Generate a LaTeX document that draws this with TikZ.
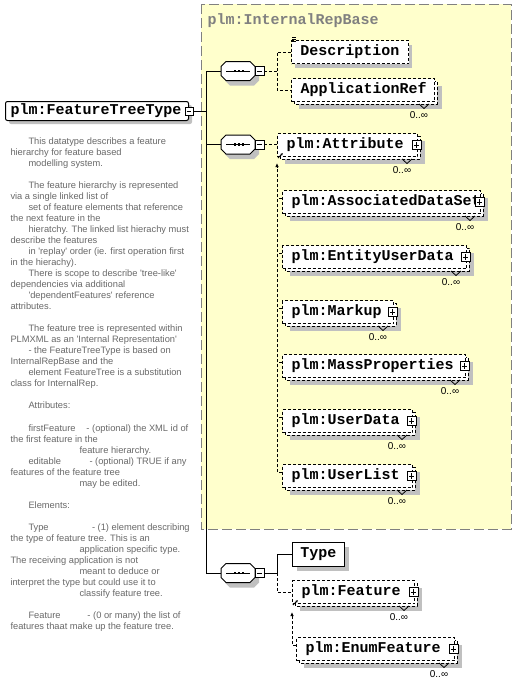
\documentclass[tikz,border=0pt]{standalone}
\usepackage{fontspec}
\setmainfont{Liberation Sans}
\newfontfamily\elfont{Liberation Mono}
\usetikzlibrary{arrows.meta}
\definecolor{shc}{RGB}{192,192,192}
\definecolor{ylw}{RGB}{255,255,204}
\definecolor{bordgray}{RGB}{128,128,128}
\definecolor{desccol}{RGB}{105,105,105}
\newcommand\sq{\textquotesingle}
\newcommand\tb[2]{\makebox[#1][l]{#2}}
\tikzset{
  dsh/.style={dash pattern=on 3pt off 2pt},
  eltext/.style={font=\elfont\bfseries\fontsize{15}{15}\selectfont, inner sep=0pt},
  box/.style={draw, fill=white, inner sep=0pt, line width=1pt},
  pm/.style={draw, fill=white, minimum size=9pt, inner sep=0pt, line width=0.8pt},
  occ/.style={font=\fontsize{10}{10}\selectfont, inner sep=0pt},
  desc/.style={font=\fontsize{9.3}{11}\selectfont, text=desccol, inner sep=0pt, anchor=base west},
  hole/.style={minimum width=34pt, minimum height=19pt, inner sep=0pt}
}
% multi-occurrence element: name, x0, y0, x1 (outer), text
\newcommand\multel[5]{%
  \fill[shc] (#2+8,#3+8) rectangle (#4+5,#3+31);
  \draw[dsh, fill=white, line width=1pt] (#2+3,#3+3) rectangle (#4,#3+26);
  \node[box, dsh, anchor=north west, minimum width=#4-#2-3, minimum height=23] (#1) at (#2,#3) {};
  \node[eltext, anchor=west] (#1-t) at ([xshift=9pt]#1.west) {#5};
  \draw[line width=0.8pt] (#4-18,#3+26) -- (#4-13,#3+30.5) -- (#4-8,#3+26);
  \node[occ] (#1-o) at (#4-18,#3+37.5) {0..∞};
}
\newcommand\plusb[1]{%
  \node[pm] (#1-p) at ([xshift=-1.5pt]#1.east) {};
  \draw[line width=0.8pt] ([xshift=-2.6pt]#1-p.center) -- ([xshift=2.6pt]#1-p.center)
        ([yshift=-2.6pt]#1-p.center) -- ([yshift=2.6pt]#1-p.center);
}
% compositor: name, cx, cy
\newcommand\comp[3]{%
  \fill[shc] (#2-13,#3-4.5) -- (#2-8,#3-9.5) -- (#2+16,#3-4.5) -- (#2+21,#3-0.5)
     -- (#2+21,#3+9.5) -- (#2+16,#3+14.5) -- (#2-8,#3+14.5) -- (#2-13,#3+9.5) -- cycle;
  \draw[fill=white, line width=1pt] (#2-17,#3-4.5) -- (#2-12,#3-9.5) -- (#2+12,#3-9.5) -- (#2+17,#3-4.5)
     -- (#2+17,#3+4.5) -- (#2+12,#3+9.5) -- (#2-12,#3+9.5) -- (#2-17,#3+4.5) -- cycle;
  \node[hole] (#1) at (#2,#3) {};
  \draw[line width=1pt] ([xshift=-12pt]#1.center) -- ([xshift=12pt]#1.center);
  \fill ([xshift=-3pt]#1.center) +(-1.3pt,-1.3pt) rectangle +(1.3pt,1.3pt);
  \fill ([xshift=1pt]#1.center) +(-1.3pt,-1.3pt) rectangle +(1.3pt,1.3pt);
  \fill ([xshift=5pt]#1.center) +(-1.3pt,-1.3pt) rectangle +(1.3pt,1.3pt);
  \node[pm] (#1-m) at ([xshift=21.5pt]#1.center) {};
  \draw[line width=0.8pt] ([xshift=-2.6pt]#1-m.center) -- ([xshift=2.6pt]#1-m.center);
}
\newcommand\dl[3]{\node[desc] (d#1) at (#2,144.5+11.02*#1-11.02) {#3};}
\begin{document}
\begin{tikzpicture}[x=1pt, y=-1pt, line width=1pt]
\useasboundingbox (0,0) rectangle (516,694);
\fill[white] (0,0) rectangle (516,694);
% base type region
\draw[fill=ylw, draw=bordgray, dash pattern=on 10pt off 4pt, line width=1pt] (201,4) rectangle (511,529);
\node[eltext, text=bordgray, anchor=west] (base) at (207,20.5) {plm:InternalRepBase};

% main type
\fill[shc, rounded corners=2pt] (9,105) rectangle (192,124);
\node[box, rounded corners=2pt, anchor=north west, minimum width=183, minimum height=19] (ftt) at (5,101) {};
\node[eltext, anchor=west] (ftt-t) at ([xshift=5pt]ftt.west) {plm:FeatureTreeType};
\node[pm, minimum size=8pt] (ftt-m) at (ftt.east) {};
\draw[line width=0.8pt] ([xshift=-2.4pt]ftt-m.center) -- ([xshift=2.4pt]ftt-m.center);

% compositors
\comp{c1}{238}{71}
\comp{c2}{238}{144.5}
\comp{c3}{238}{573}

\coordinate (trunk) at (206,0);
\draw (ftt-m.east) -- (ftt-m.east -| trunk);
\draw (c1.west) -- (c1.west -| trunk) -- (c3.west -| trunk) -- (c3.west);
\draw (c2.west) -- (c2.west -| trunk);

% sequence 1
\fill[shc] (295,45) rectangle (412,68);
\node[box, dsh, anchor=north west, minimum width=117, minimum height=23] (desc) at (291,40) {};
\node[eltext] (desc-t) at (desc.center) {Description};
\draw[line width=0.7pt] (292,37) -- (296,37) (292,39) -- (296,39) (292,41) -- (296,41);
\multel{appref}{291}{78}{437}{ApplicationRef}
\coordinate (j1) at (277,71);
\draw[dsh] (c1-m.east) -- (j1);
\draw[dsh] (desc.west) -| (j1) |- (appref.west);

% sequence 2 : substitution group of Attribute
\multel{attr}{277}{133}{420}{plm:Attribute}
\plusb{attr}
\draw[dsh] (c2-m.east) -- (c2-m.east -| attr.west);
\multel{assoc}{282}{190}{483}{plm:AssociatedDataSet}
\plusb{assoc}
\multel{eud}{282}{245}{469}{plm:EntityUserData}
\plusb{eud}
\multel{markup}{282}{300}{396}{plm:Markup}
\plusb{markup}
\multel{mass}{282}{354}{468}{plm:MassProperties}
\plusb{mass}
\multel{udata}{282}{409}{415}{plm:UserData}
\plusb{udata}
\multel{ulist}{282}{464}{415}{plm:UserList}
\plusb{ulist}
\coordinate (s1) at ([yshift=-6pt]attr.south west);
\draw[dsh, -{Latex[length=4pt,width=3.5pt]}] ([yshift=-8pt]ulist.north west) -| (s1);
\foreach \n in {assoc,eud,markup,mass,udata}
  \draw[dsh] ([yshift=-8pt]\n.north west) -- ([yshift=-8pt]\n.north west -| s1);
\draw[line width=0.8pt, -{Latex[length=2.5pt,width=2.5pt]}] ([shift={(1pt,-1pt)}]attr.south west) -- ([shift={(6pt,4pt)}]attr.south west);

% sequence 3
\fill[shc] (297,547) rectangle (349,571);
\node[box, eltext, anchor=north west, minimum width=52, minimum height=24] (type) at (292,542) {Type};
\multel{feat}{292}{580}{417}{plm:Feature}
\plusb{feat}
\multel{enumf}{296}{637}{457}{plm:EnumFeature}
\plusb{enumf}
\coordinate (j3) at (277,573);
\draw (c3-m.east) -- (j3) |- (type.west);
\draw[dsh] (j3) |- (feat.west);
\coordinate (s2) at ([yshift=-8pt]feat.south west);
\draw[dsh, -{Latex[length=4pt,width=3.5pt]}] ([yshift=-8pt]enumf.north west) -| (s2);
\draw[line width=0.8pt, -{Latex[length=2.5pt,width=2.5pt]}] ([shift={(1pt,-1pt)}]feat.south west) -- ([shift={(6pt,4pt)}]feat.south west);

% documentation
\dl{1}{28}{This datatype describes a feature}
\dl{2}{10}{hierarchy for feature based}
\dl{3}{28}{modelling system.}
\dl{5}{28}{The feature hierarchy is represented}
\dl{6}{10}{via a single linked list of}
\dl{7}{28}{set of feature elements that reference}
\dl{8}{10}{the next feature in the}
\dl{9}{28}{hieratchy. The linked list hierachy must}
\dl{10}{10}{describe the features}
\dl{11}{28}{in \sq replay\sq\ order (ie. first operation first}
\dl{12}{10}{in the hierachy).}
\dl{13}{28}{There is scope to describe \sq tree-like\sq}
\dl{14}{10}{dependencies via additional}
\dl{15}{28}{\sq dependentFeatures\sq\ reference}
\dl{16}{10}{attributes.}
\dl{18}{28}{The feature tree is represented within}
\dl{19}{10}{PLMXML as an \sq Internal Representation\sq}
\dl{20}{28}{- the FeatureTreeType is based on}
\dl{21}{10}{InternalRepBase and the}
\dl{22}{28}{element FeatureTree is a substitution}
\dl{23}{10}{class for InternalRep.}
\dl{25}{28}{Attributes:}
\dl{27}{28}{\tb{58pt}{firstFeature}- (optional) the XML id of}
\dl{28}{10}{the first feature in the}
\dl{29}{79}{feature hierarchy.}
\dl{30}{28}{\tb{61pt}{editable}- (optional) TRUE if any}
\dl{31}{10}{features of the feature tree}
\dl{32}{79}{may be edited.}
\dl{34}{28}{Elements:}
\dl{36}{28}{\tb{63.5pt}{Type}- (1) element describing}
\dl{37}{10}{the type of feature tree. This is an}
\dl{38}{79}{application specific type.}
\dl{39}{10}{The receiving application is not}
\dl{40}{79}{meant to deduce or}
\dl{41}{10}{interpret the type but could use it to}
\dl{42}{79}{classify feature tree.}
\dl{44}{28}{\tb{59pt}{Feature}- (0 or many) the list of}
\dl{45}{10}{features thaat make up the feature tree.}
\end{tikzpicture}
\end{document}
